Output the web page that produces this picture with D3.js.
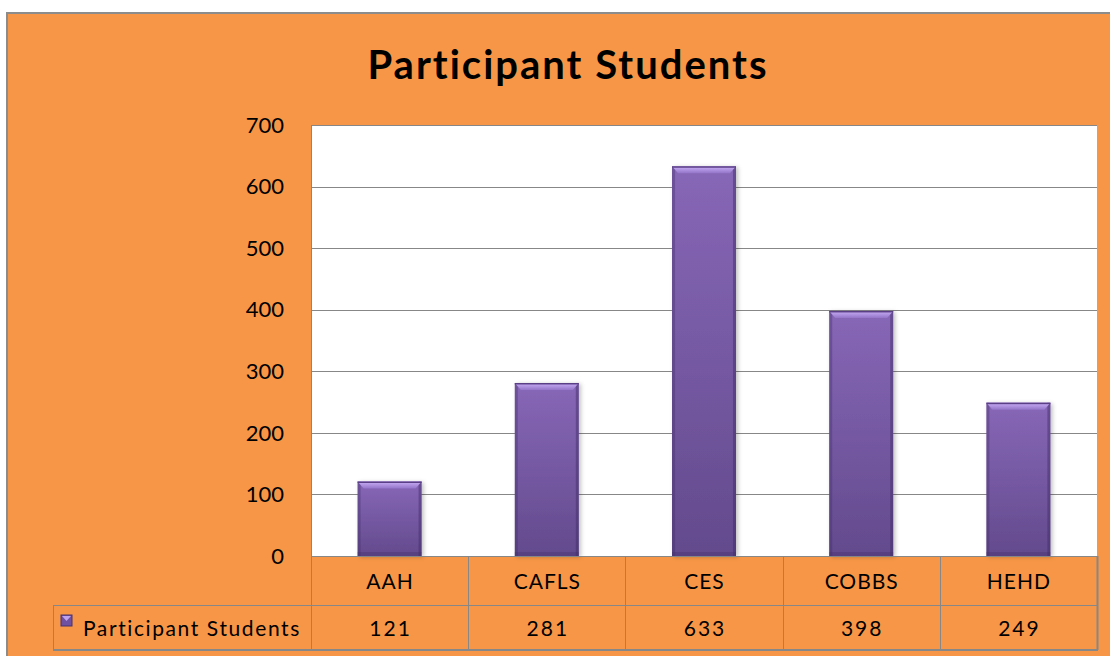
<!DOCTYPE html>
<html>
<head>
<meta charset="utf-8">
<script src="https://cdn.jsdelivr.net/npm/d3@7"></script>
<style>
  body { margin: 0; background: #fff; }
  text { font-family: Lato, "Liberation Sans", sans-serif; fill: #000; }
</style>
</head>
<body>
<svg id="chart" width="1110" height="656"></svg>
<script>
// chart data
var categories = ['AAH', 'CAFLS', 'CES', 'COBBS', 'HEHD'];
var students = [121, 281, 633, 398, 249];
var yTicks = [0, 100, 200, 300, 400, 500, 600, 700];
var seriesName = 'Participant Students';
var chartTitle = 'Participant Students';

var svg = d3.select('#chart');
var plotLeft = 311, plotRight = 1097, plotTop = 125, plotBottom = 556;
var row1 = 605, row2 = 650, legendLeft = 53;
var grey = '#878787';

// orange chart area with outer frame
svg.append('rect')
    .attr('x', 7).attr('y', 13).attr('width', 1110).attr('height', 650)
    .attr('fill', '#f79646').attr('stroke', '#8c8c8c').attr('stroke-width', 2);

svg.append('text')
    .attr('x', 568).attr('y', 79)
    .attr('text-anchor', 'middle')
    .style('font-size', '40px').style('font-weight', 'bold')
    .style('letter-spacing', '2px')
    .text(chartTitle);

var y = d3.scaleLinear().domain([0, 700]).range([plotBottom, plotTop]);
var x = d3.scaleBand().domain(categories).range([plotLeft, plotRight])
    .paddingInner(0.593).paddingOuter(0.2965);
var step = x.step();
function colCenter(c) { return x(c) + x.bandwidth() / 2; }

// plot area
svg.append('rect')
    .attr('x', plotLeft).attr('y', plotTop)
    .attr('width', plotRight - plotLeft).attr('height', plotBottom - plotTop)
    .attr('fill', '#fff');

svg.append('g').selectAll('line')
    .data(yTicks.filter(function (d) { return d > 0; }))
    .enter().append('line')
    .attr('x1', plotLeft).attr('x2', plotRight)
    .attr('y1', function (d) { return Math.round(y(d)) + 0.5; })
    .attr('y2', function (d) { return Math.round(y(d)) + 0.5; })
    .attr('stroke', grey).attr('stroke-width', 1);

// y tick labels
svg.append('g').selectAll('text')
    .data(yTicks)
    .enter().append('text')
    .attr('x', 284)
    .attr('y', function (d) { return y(d); })
    .attr('dy', '0.35em')
    .attr('text-anchor', 'end')
    .style('font-size', '22px')
    .text(function (d) { return d; });

// bars
var defs = svg.append('defs');
var grad = defs.append('linearGradient').attr('id', 'barGrad')
    .attr('x1', 0).attr('y1', 0).attr('x2', 0).attr('y2', 1);
grad.append('stop').attr('offset', '0%').attr('stop-color', '#8767b7');
grad.append('stop').attr('offset', '100%').attr('stop-color', '#634a8d');

var capGrad = defs.append('linearGradient').attr('id', 'capGrad')
    .attr('x1', 0).attr('y1', 0).attr('x2', 0).attr('y2', 1);
capGrad.append('stop').attr('offset', '0%').attr('stop-color', '#cbb0f7');
capGrad.append('stop').attr('offset', '100%').attr('stop-color', '#9475c9');

var shadow = defs.append('filter').attr('id', 'shadow')
    .attr('x', '-20%').attr('y', '-20%').attr('width', '140%').attr('height', '140%');
shadow.append('feDropShadow')
    .attr('dx', 2).attr('dy', 1).attr('stdDeviation', 2)
    .attr('flood-color', '#000').attr('flood-opacity', 0.25);

var bw = x.bandwidth();
function barH(i) { return plotBottom - y(students[i]); }
var bars = svg.append('g').selectAll('g')
    .data(categories)
    .enter().append('g')
    .attr('transform', function (c, i) { return 'translate(' + x(c) + ',' + y(students[i]) + ')'; });

bars.append('rect')
    .attr('width', bw)
    .attr('height', function (c, i) { return barH(i); })
    .attr('fill', 'url(#barGrad)')
    .attr('filter', 'url(#shadow)');
// darker side and bottom edges
bars.append('rect').attr('width', 3)
    .attr('height', function (c, i) { return barH(i); })
    .attr('fill', '#3f2a63').attr('opacity', 0.35);
bars.append('rect').attr('x', bw - 3).attr('width', 3)
    .attr('height', function (c, i) { return barH(i); })
    .attr('fill', '#3f2a63').attr('opacity', 0.45);
bars.append('rect')
    .attr('y', function (c, i) { return barH(i) - 4; })
    .attr('width', bw).attr('height', 4)
    .attr('fill', '#3f2a63').attr('opacity', 0.3);
// lighter bevelled cap
bars.append('path')
    .attr('d', 'M0,0 L' + bw + ',0 L' + (bw - 6) + ',7 L6,7 Z')
    .attr('fill', 'url(#capGrad)');
bars.append('rect').attr('width', bw).attr('height', 1.5).attr('fill', '#5a3f86');

// data table
var tbl = svg.append('g').attr('stroke', grey).attr('fill', 'none');
tbl.append('line').attr('x1', plotLeft).attr('x2', plotRight).attr('y1', plotBottom + 0.5).attr('y2', plotBottom + 0.5);
tbl.append('line').attr('x1', legendLeft).attr('x2', plotRight).attr('y1', row1 + 0.5).attr('y2', row1 + 0.5);
tbl.append('line').attr('x1', legendLeft).attr('x2', plotRight + 1).attr('y1', row2).attr('y2', row2).attr('stroke-width', 2);
tbl.append('line').attr('x1', legendLeft + 0.5).attr('x2', legendLeft + 0.5).attr('y1', row1).attr('y2', row2);
tbl.append('line').attr('x1', plotLeft + 0.5).attr('x2', plotLeft + 0.5).attr('y1', plotTop).attr('y2', row2);
tbl.selectAll('line.col')
    .data(categories)
    .enter().append('line')
    .attr('x1', function (c) { return Math.round(colCenter(c) + step / 2) + 0.5; })
    .attr('x2', function (c) { return Math.round(colCenter(c) + step / 2) + 0.5; })
    .attr('y1', plotBottom).attr('y2', row2)
    .attr('stroke-width', function (c, i) { return i === categories.length - 1 ? 2 : 1; });

svg.append('g').selectAll('text')
    .data(categories)
    .enter().append('text')
    .attr('x', function (c) { return colCenter(c) + 0.5; })
    .attr('y', (plotBottom + row1) / 2 + 1)
    .attr('dy', '0.35em')
    .attr('text-anchor', 'middle')
    .style('font-size', '21px')
    .style('letter-spacing', '1px')
    .text(function (c) { return c; });

svg.append('g').selectAll('text')
    .data(students)
    .enter().append('text')
    .attr('x', function (d, i) { return colCenter(categories[i]) + 1; })
    .attr('y', (row1 + row2) / 2 + 1)
    .attr('dy', '0.35em')
    .attr('text-anchor', 'middle')
    .style('font-size', '21px')
    .style('letter-spacing', '2px')
    .text(function (d) { return d; });

// legend key in the table
svg.append('rect')
    .attr('x', 61).attr('y', 615).attr('width', 11).attr('height', 11)
    .attr('fill', '#7050a0').attr('stroke', '#4a3270').attr('stroke-width', 1);
svg.append('path')
    .attr('d', 'M62,616 L71,616 L66.5,621 Z').attr('fill', '#c0a3ef');
svg.append('text')
    .attr('x', 83).attr('y', (row1 + row2) / 2 + 1)
    .attr('dy', '0.35em')
    .style('font-size', '21px')
    .style('letter-spacing', '1.6px')
    .text(seriesName);
</script>
</body>
</html>
